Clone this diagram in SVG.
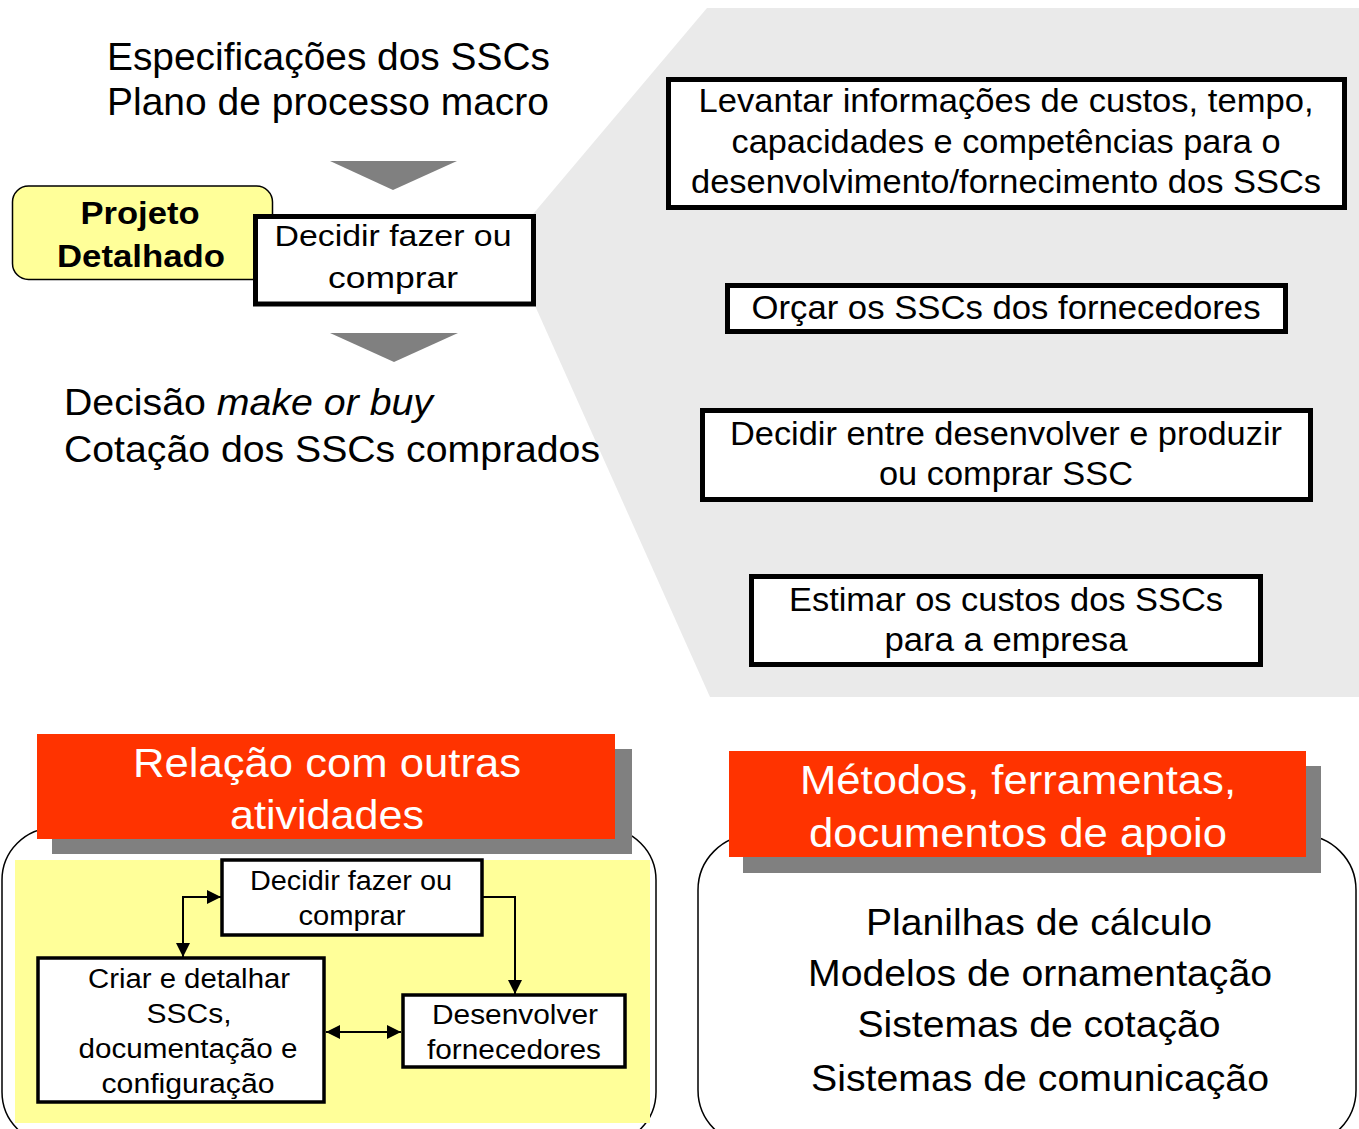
<svg xmlns="http://www.w3.org/2000/svg" width="1359" height="1129" viewBox="0 0 1359 1129">
<defs>
<style>
text{font-family:"Liberation Sans",Arial,sans-serif;fill:#000}
.t39{font-size:39px}
.t34{font-size:34px;text-anchor:middle}
.t36{font-size:36px;text-anchor:middle}
.t26{font-size:27px;text-anchor:middle}
.hd{font-size:40px;text-anchor:middle;fill:#fff}
.box{fill:#fff;stroke:#000;stroke-width:5}
.sbox{fill:#fff;stroke:#000;stroke-width:3.5}
.tri{fill:#808080}
.red{fill:#FF3300}
.shadow{fill:#808080}
.frame{fill:#fff;stroke:#000;stroke-width:1.5}
.conn{fill:none;stroke:#000;stroke-width:2}
</style>
<marker id="ah" markerUnits="userSpaceOnUse" markerWidth="14" markerHeight="14" viewBox="0 0 13 13" refX="13" refY="6.5" orient="auto-start-reverse">
<path d="M0,0 L13,6.5 L0,13 Z" fill="#000"/>
</marker>
</defs>

<rect width="1359" height="1129" fill="#fff"/>

<g id="zoom-background">
<polygon points="707,8 1359,8 1359,697 710,697 528,290 528,220" fill="#EAEAEA"/>
</g>

<g id="inputs">
<text class="t39" x="107" y="70" textLength="443" lengthAdjust="spacingAndGlyphs">Especificações dos SSCs</text>
<text class="t39" x="107" y="115" textLength="442" lengthAdjust="spacingAndGlyphs">Plano de processo macro</text>
<polygon class="tri" points="330,161 457,161 393,190"/>
</g>

<g id="phase">
<rect x="12.5" y="186" width="260" height="93.5" rx="16" fill="#FFFF99" stroke="#000" stroke-width="1.5"/>
<text x="140" y="224" style="font-size:31px;font-weight:bold;text-anchor:middle" textLength="119" lengthAdjust="spacingAndGlyphs">Projeto</text>
<text x="141" y="267" style="font-size:31px;font-weight:bold;text-anchor:middle" textLength="168" lengthAdjust="spacingAndGlyphs">Detalhado</text>
</g>

<g id="activity">
<rect class="box" x="255.5" y="216.5" width="278" height="87.5"/>
<text class="t34" x="393" y="246" style="font-size:30px" textLength="237" lengthAdjust="spacingAndGlyphs">Decidir fazer ou</text>
<text class="t34" x="393" y="288" style="font-size:30px" textLength="130" lengthAdjust="spacingAndGlyphs">comprar</text>
</g>

<g id="outputs">
<polygon class="tri" points="330,333 458,333 394,362"/>
<text class="t39" x="64" y="415" style="font-size:37px" textLength="369" lengthAdjust="spacingAndGlyphs">Decisão <tspan font-style="italic">make or buy</tspan></text>
<text class="t39" x="64" y="462" style="font-size:37px" textLength="536" lengthAdjust="spacingAndGlyphs">Cotação dos SSCs comprados</text>
</g>

<g id="task1">
<rect class="box" x="668.5" y="79.5" width="676" height="128"/>
<text class="t34" x="1006" y="112" textLength="615" lengthAdjust="spacingAndGlyphs">Levantar informações de custos, tempo,</text>
<text class="t34" x="1006" y="153" textLength="549" lengthAdjust="spacingAndGlyphs">capacidades e competências para o</text>
<text class="t34" x="1006" y="193" textLength="630" lengthAdjust="spacingAndGlyphs">desenvolvimento/fornecimento dos SSCs</text>
</g>

<g id="task2">
<rect class="box" x="727.5" y="285.5" width="558" height="46"/>
<text class="t34" x="1006" y="319" textLength="509" lengthAdjust="spacingAndGlyphs">Orçar os SSCs dos fornecedores</text>
</g>

<g id="task3">
<rect class="box" x="702.5" y="410.5" width="608" height="89"/>
<text class="t34" x="1006" y="445" textLength="552" lengthAdjust="spacingAndGlyphs">Decidir entre desenvolver e produzir</text>
<text class="t34" x="1006" y="485" textLength="254" lengthAdjust="spacingAndGlyphs">ou comprar SSC</text>
</g>

<g id="task4">
<rect class="box" x="751.5" y="576.5" width="509" height="88"/>
<text class="t34" x="1006" y="611" textLength="434" lengthAdjust="spacingAndGlyphs">Estimar os custos dos SSCs</text>
<text class="t34" x="1006" y="651" textLength="243" lengthAdjust="spacingAndGlyphs">para a empresa</text>
</g>

<g id="relations-panel">
<rect class="frame" x="2" y="828" width="654" height="316" rx="52"/>
<rect x="15" y="860" width="635" height="263" fill="#FFFF99"/>
<rect class="shadow" x="52" y="749" width="580" height="105"/>
<rect class="red" x="37" y="734" width="578" height="105"/>
<text class="hd" x="327" y="777" textLength="388" lengthAdjust="spacingAndGlyphs">Relação com outras</text>
<text class="hd" x="327" y="829" textLength="194" lengthAdjust="spacingAndGlyphs">atividades</text>
</g>

<g id="rel-decidir">
<rect class="sbox" x="222" y="860" width="260" height="75"/>
<text class="t26" x="351" y="890" textLength="202" lengthAdjust="spacingAndGlyphs">Decidir fazer ou</text>
<text class="t26" x="352" y="925" textLength="107" lengthAdjust="spacingAndGlyphs">comprar</text>
</g>

<g id="rel-criar">
<rect class="sbox" x="38" y="958" width="286" height="144"/>
<text class="t26" x="189" y="988" textLength="202" lengthAdjust="spacingAndGlyphs">Criar e detalhar</text>
<text class="t26" x="189" y="1023" textLength="85" lengthAdjust="spacingAndGlyphs">SSCs,</text>
<text class="t26" x="188" y="1058" textLength="219" lengthAdjust="spacingAndGlyphs">documentação e</text>
<text class="t26" x="188" y="1093" textLength="173" lengthAdjust="spacingAndGlyphs">configuração</text>
</g>

<g id="rel-desenvolver">
<rect class="sbox" x="403" y="995" width="222" height="72"/>
<text class="t26" x="515" y="1024" textLength="166" lengthAdjust="spacingAndGlyphs">Desenvolver</text>
<text class="t26" x="514" y="1059" textLength="174" lengthAdjust="spacingAndGlyphs">fornecedores</text>
</g>

<g id="connectors">
<path class="conn" d="M221,897 H183 V957" marker-start="url(#ah)" marker-end="url(#ah)"/>
<path class="conn" d="M483,897 H515 V994" marker-end="url(#ah)"/>
<path class="conn" d="M326,1032 H401" marker-start="url(#ah)" marker-end="url(#ah)"/>
</g>

<g id="methods-panel">
<rect class="frame" x="698" y="835" width="658" height="310" rx="55"/>
<rect class="shadow" x="743" y="766" width="578" height="107"/>
<rect class="red" x="729" y="751" width="577" height="106"/>
<text class="hd" x="1018" y="794" textLength="436" lengthAdjust="spacingAndGlyphs">Métodos, ferramentas,</text>
<text class="hd" x="1018" y="847" textLength="418" lengthAdjust="spacingAndGlyphs">documentos de apoio</text>
<text class="t36" x="1039" y="935" textLength="346" lengthAdjust="spacingAndGlyphs">Planilhas de cálculo</text>
<text class="t36" x="1040" y="986" textLength="464" lengthAdjust="spacingAndGlyphs">Modelos de ornamentação</text>
<text class="t36" x="1039" y="1037" textLength="363" lengthAdjust="spacingAndGlyphs">Sistemas de cotação</text>
<text class="t36" x="1040" y="1091" textLength="458" lengthAdjust="spacingAndGlyphs">Sistemas de comunicação</text>
</g>
</svg>
